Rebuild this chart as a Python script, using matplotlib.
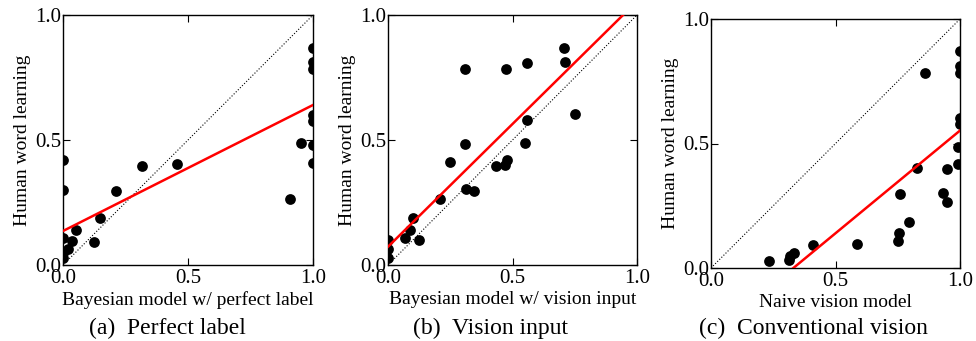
import numpy as np
import matplotlib
matplotlib.use('Agg')
import matplotlib.pyplot as plt

plt.rcParams['font.family'] = ['Liberation Serif', 'DejaVu Serif']

# (a) Bayesian model w/ perfect label
a_x = [1.0, 1.0, 1.0, 1.0, 1.0, 0.953, 1.0, 1.0, 0.909, 0.456, 0.316, 0.213, 0.149,
       0.124, 0.051, 0.036, 0.02, 0.0, 0.0, 0.0, 0.0, 0.0]
a_y = [0.869, 0.813, 0.784, 0.60, 0.577, 0.487, 0.48, 0.41, 0.265, 0.403, 0.396, 0.297,
       0.187, 0.093, 0.14, 0.097, 0.063, 0.42, 0.30, 0.107, 0.047, 0.027]
a_fit = (0.504, 0.136)  # slope, intercept

# (b) Bayesian model w/ vision input
b_x = [0.707, 0.712, 0.558, 0.308, 0.475, 0.75, 0.558, 0.549, 0.311, 0.249, 0.479, 0.468,
       0.432, 0.315, 0.344, 0.21, 0.10, 0.09, 0.07, 0.124, 0.0, 0.0, 0.0]
b_y = [0.869, 0.811, 0.809, 0.783, 0.785, 0.604, 0.58, 0.487, 0.483, 0.411, 0.42, 0.40,
       0.397, 0.303, 0.297, 0.265, 0.187, 0.14, 0.107, 0.10, 0.10, 0.063, 0.03]
b_fit = (0.982, 0.073)

# (c) Naive vision model
c_x = [1.0, 1.0, 1.0, 0.859, 1.0, 1.0, 0.99, 0.99, 0.946, 0.826, 0.932, 0.946, 0.759,
       0.797, 0.756, 0.752, 0.585, 0.411, 0.333, 0.317, 0.315, 0.234]
c_y = [0.872, 0.813, 0.785, 0.785, 0.602, 0.579, 0.485, 0.416, 0.397, 0.401, 0.301, 0.266,
       0.298, 0.186, 0.14, 0.107, 0.096, 0.091, 0.06, 0.049, 0.031, 0.027]
c_fit = (0.825, -0.273)

panels = [
    (a_x, a_y, a_fit, 'Bayesian model w/ perfect label', '(a)  Perfect label'),
    (b_x, b_y, b_fit, 'Bayesian model w/ vision input', '(b)  Vision input'),
    (c_x, c_y, c_fit, 'Naive vision model', '(c)  Conventional vision'),
]

W, H = 976, 341
fig = plt.figure(figsize=(W / 100, H / 100), dpi=100)

# axes boxes in pixels: left, top, right, bottom
boxes = [(63, 15, 313, 265), (388, 15, 637, 265), (711, 19, 960, 268)]
caption_x = [167, 491, 813]

for (x, y, fit, xlabel, caption), (l, t, r, b), cx in zip(panels, boxes, caption_x):
    ax = fig.add_axes([l / W, 1 - b / H, (r - l) / W, (b - t) / H])
    ax.plot([0, 1], [0, 1], color='black', linestyle=':', linewidth=0.8)
    ax.scatter(x, y, s=60, color='black', zorder=3, linewidths=0)
    xs = np.linspace(0, 1, 200)
    ax.plot(xs, fit[0] * xs + fit[1], color='red', linewidth=1.8, zorder=4)
    ax.set_xlim(0, 1)
    ax.set_ylim(0, 1)
    ax.set_xticks([0, 0.5, 1.0])
    ax.set_yticks([0, 0.5, 1.0])
    ax.set_xticklabels(['0.0', '0.5', '1.0'])
    ax.set_yticklabels(['0.0', '0.5', '1.0'])
    ax.tick_params(direction='in', top=True, right=True, length=5, width=0.8,
                   labelsize=15)
    ax.tick_params(axis='x', pad=3)
    ax.tick_params(axis='y', pad=1.5)
    for sp in ax.spines.values():
        sp.set_linewidth(1.0)
    ax.set_xlabel(xlabel, fontsize=14, labelpad=2)
    ax.set_ylabel('Human word learning', fontsize=14, labelpad=3)
    fig.text(cx / W, 1 - 328 / H, caption, fontsize=17, ha='center', va='center')

fig.savefig('out.png', dpi=100)
